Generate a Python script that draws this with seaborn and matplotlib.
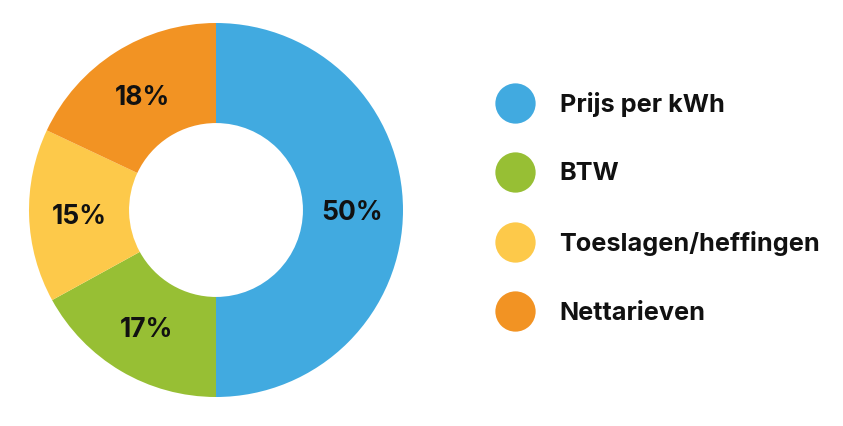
import matplotlib
matplotlib.use('Agg')
import matplotlib.pyplot as plt
from matplotlib.lines import Line2D
import seaborn as sns

# Data
categories = ['Prijs per kWh', 'BTW', 'Toeslagen/heffingen', 'Nettarieven']
shares = [50, 17, 15, 18]
colors = ['#41aae0', '#97bf34', '#fdc94a', '#f29323']

sns.set_theme(style='white')
plt.rcParams['font.family'] = ['Inter', 'DejaVu Sans']

fig = plt.figure(figsize=(8.43, 4.26), dpi=100)
ax = fig.add_axes([29 / 843, 29 / 426, 374 / 843, 374 / 426])

wedges, texts, autotexts = ax.pie(
    shares, colors=colors, startangle=90, counterclock=False,
    radius=1, wedgeprops=dict(width=0.535, linewidth=0),
    autopct='%d%%', pctdistance=0.73,
    textprops=dict(fontsize=19, fontweight='bold', color='#111111'),
)
for t in autotexts:
    t.set_va('center_baseline')
ax.set_xlim(-1, 1)
ax.set_ylim(-1, 1)
ax.set_aspect('equal')

handles = [Line2D([], [], marker='o', ls='', markersize=29, color=c,
                  markeredgewidth=0) for c in colors]
fig.legend(handles, categories, loc='upper left',
           bbox_to_anchor=(490 / 843, 1 - 92 / 426),
           frameon=False, prop=dict(size=18.2, weight='bold'),
           labelspacing=1.8, handletextpad=0.75, borderpad=0,
           borderaxespad=0, labelcolor='#111111')

fig.savefig('out.png', dpi=100)
